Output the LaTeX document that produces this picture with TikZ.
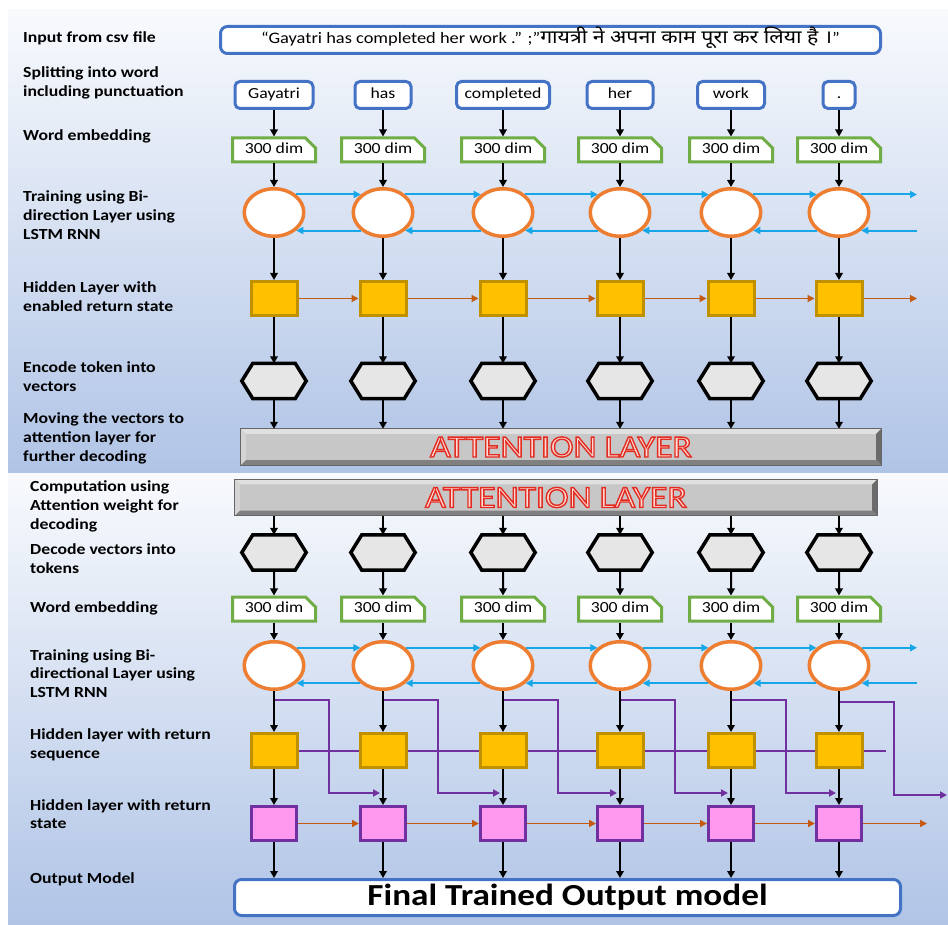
\documentclass[tikz,border=0pt]{standalone}
\usepackage{fontspec}
\setmainfont{Carlito}[FakeStretch=1.15]
\newfontfamily\devafont{Noto Sans}[Script=Devanagari,FakeStretch=1.15]
\newfontfamily\attfont{Carlito}[FakeStretch=1.15,FakeBold=4.5]
\usetikzlibrary{arrows.meta,shapes.geometric,shapes.misc,calc}

\definecolor{boxblue}{HTML}{4472C4}
\definecolor{embgreen}{HTML}{70AD47}
\definecolor{cellorange}{HTML}{ED7D31}
\definecolor{flowblue}{HTML}{17A6E8}
\definecolor{goldfill}{HTML}{FFC000}
\definecolor{golddark}{HTML}{BF9000}
\definecolor{stateorange}{HTML}{C55A11}
\definecolor{hexgray}{HTML}{E7E6E6}
\definecolor{pinkcell}{HTML}{FF99F0}
\definecolor{violetline}{HTML}{7030A0}
\definecolor{panelhi}{HTML}{F8FAFD}
\definecolor{panelmid}{HTML}{CCD9EF}
\definecolor{panello}{HTML}{B0C4E6}
\definecolor{attpink}{HTML}{FBDAD4}

% red stroke for the outlined caption letters (fill stays pink)
\newcommand\redstroke{\special{pdf:literal direct 0.89 0.17 0.13 RG}}

\tikzset{
  lbl/.style={anchor=west, align=left, inner sep=0pt,
    font=\fontsize{15.4}{18.7}\selectfont\bfseries},
  boxtext/.style={font=\fontsize{15.4}{18}\selectfont, text height=10.5pt, text depth=3pt},
  wordbox/.style={boxtext, draw=boxblue, line width=3pt, rounded corners=5pt,
    fill=white, minimum height=27pt, inner sep=0pt},
  embbox/.style={boxtext, chamfered rectangle, chamfered rectangle corners=north east,
    chamfered rectangle xsep=5pt, chamfered rectangle ysep=5pt,
    draw=embgreen, line width=3pt, fill=white,
    minimum width=83pt, minimum height=24pt, inner sep=0pt},
  cell/.style={ellipse, draw=cellorange, line width=3.5pt, fill=white,
    minimum width=59.5pt, minimum height=47.5pt, inner sep=0pt},
  ysq/.style={draw=golddark, fill=goldfill, line width=3pt,
    minimum width=46pt, minimum height=34pt, inner sep=0pt},
  psq/.style={draw=violetline, fill=pinkcell, line width=3pt,
    minimum width=45pt, minimum height=34pt, inner sep=0pt},
  hexnode/.style={minimum width=64pt, minimum height=35pt, inner sep=0pt},
  hexline/.style={draw=black, fill=hexgray, line width=3.5pt, line join=miter},
  attbar/.style={fill=black!22, minimum width=640pt, minimum height=36pt, inner sep=0pt},
  bevtop/.style={fill=black!12},
  bevleft/.style={fill=black!17},
  bevright/.style={fill=black!58},
  bevbot/.style={fill=black!50},
  bevedge/.style={draw=black!60, line width=1pt},
  atttxt/.style={font=\fontsize{31}{32}\attfont, text=attpink, inner sep=0pt},
  blk/.style={draw=black, line width=2pt, -{Triangle[length=7pt,width=7.5pt]}},
  bluearr/.style={draw=flowblue, line width=2pt, -{Triangle[length=7pt,width=7pt]}},
  statearr/.style={draw=stateorange, line width=1.8pt, -{Triangle[length=7pt,width=7pt]}},
  violetarr/.style={draw=violetline, line width=2pt, -{Triangle[length=7pt,width=7pt]}},
  violetln/.style={draw=violetline, line width=2pt},
  bigbox/.style={draw=boxblue, line width=3pt, rounded corners=7pt, fill=white, inner sep=0pt}
}

% hexagon with pointed left and right ends
\newcommand\hexcell[3]{%
  \node[hexnode] (#1) at (#2,#3) {};
  \draw[hexline] (#1.west) -- ($(#1.north west)+(11,0)$) -- ($(#1.north east)+(-11,0)$)
    -- (#1.east) -- ($(#1.south east)+(-11,0)$) -- ($(#1.south west)+(11,0)$) -- cycle;
}

% bevelled grey bar with outlined red caption
\newcommand\bevelbar[4]{%
  \node[attbar, minimum width=#4] (#1) at (#2,#3) {};
  \fill[bevtop] (#1.north west) -- (#1.north east) -- ($(#1.north east)+(-5,5)$) -- ($(#1.north west)+(5,5)$) -- cycle;
  \fill[bevleft] (#1.north west) -- ($(#1.north west)+(5,5)$) -- ($(#1.south west)+(5,-5)$) -- (#1.south west) -- cycle;
  \fill[bevright] (#1.north east) -- ($(#1.north east)+(-5,5)$) -- ($(#1.south east)+(-5,-5)$) -- (#1.south east) -- cycle;
  \fill[bevbot] (#1.south west) -- ($(#1.south west)+(5,-5)$) -- ($(#1.south east)+(-5,-5)$) -- (#1.south east) -- cycle;
  \draw[bevedge] (#1.north west) rectangle (#1.south east);
  \node[atttxt] (#1t) at (#1.center) {\redstroke ATTENTION LAYER};
}

\begin{document}
\begin{tikzpicture}[x=1pt, y=-1pt]
\useasboundingbox (0,0) rectangle (948,925);
\fill[white] (0,0) rectangle (948,925);

% two shaded panels
\shade[top color=panelhi, middle color=panelmid, bottom color=panello] (8,10) rectangle (948,472);
\shade[top color=panelhi, middle color=panelmid, bottom color=panello] (8,473) rectangle (948,925);

% ---------------- encoder ----------------
\node[lbl] (l1) at (23,38) {Input from csv file};
\node[lbl] (l2) at (23,83) {Splitting into word\\including punctuation};
\node[lbl] (l3) at (23,136) {Word embedding};
\node[lbl] (l4) at (23,215) {Training using Bi-\\direction Layer using\\LSTM RNN};
\node[lbl] (l5) at (23,296.5) {Hidden Layer with\\enabled return state};
\node[lbl] (l6) at (23,376.5) {Encode token into\\vectors};
\node[lbl] (l7) at (23,438.5) {Moving the vectors to\\attention layer for\\further decoding};

\node[bigbox, boxtext, font=\fontsize{16}{18}\selectfont, minimum width=660pt, minimum height=27pt] (inp) at (550.5,40)
  {“Gayatri has completed her work .” ;”{\devafont\fontsize{18.5}{20}\selectfont गायत्री ने अपना काम पूरा कर लिया है ।}”};

\bevelbar{att1}{561}{447}{640pt}

\foreach \i/\x/\w/\t in {1/274/78/Gayatri,2/383/56/has,3/503/93/completed,4/620/66/her,5/731/67/work,6/839/32/.}{
  \node[wordbox, minimum width=\w pt] (w\i) at (\x,95) {\t};
  \node[embbox] (e\i) at (\x,150) {300 dim};
  \node[cell] (c\i) at (\x,212.5) {};
  \node[ysq] (s\i) at (\x,298.5) {};
  \hexcell{h\i}{\x}{381}
  \draw[blk] (w\i) -- (e\i);
  \draw[blk] (e\i) -- (c\i);
  \draw[blk] (c\i) -- (s\i);
  \draw[blk] (s\i) -- (h\i);
  \draw[blk] (h\i) -- (h\i |- att1.north);
}

\coordinate (topend) at (917,0);
\foreach \i [evaluate=\i as \j using {int(\i+1)}] in {1,...,5}{
  \draw[bluearr] (c\i.39) -- (c\j.141);
  \draw[bluearr] (c\j.-141) -- (c\i.-39);
  \draw[statearr] (s\i) -- (s\j);
}
\draw[bluearr] (c6.39) -- (c6.39 -| topend);
\draw[bluearr] (c6.-39 -| topend) -- (c6.-39);
\draw[statearr] (s6) -- (s6 -| topend);

% ---------------- decoder ----------------
\node[lbl] (l8) at (30,506.5) {Computation using\\Attention weight for\\decoding};
\node[lbl] (l9) at (30,559) {Decode vectors into\\tokens};
\node[lbl] (l10) at (30,608) {Word embedding};
\node[lbl] (l11) at (30,673.5) {Training using Bi-\\directional Layer using\\LSTM RNN};
\node[lbl] (l12) at (30,745) {Hidden layer with return\\sequence};
\node[lbl] (l13) at (30,814) {Hidden layer with return\\state};
\node[lbl] (l14) at (30,879) {Output Model};

\bevelbar{att2}{556}{497.5}{642pt}

\node[bigbox, minimum width=666pt, minimum height=36pt,
  font=\fontsize{30.6}{32}\selectfont\bfseries] (out) at (567.5,897.5) {Final Trained Output model};

\foreach \i/\x in {1/274,2/383,3/503,4/620,5/731,6/839}{
  \hexcell{g\i}{\x}{552.5}
  \node[embbox] (f\i) at (\x,609) {300 dim};
  \node[cell] (d\i) at (\x,665.5) {};
  \node[ysq] (q\i) at (\x,750.5) {};
  \node[psq] (k\i) at (\x,823.5) {};
  \coordinate (pj\i) at (\x,700);
  \coordinate (pd\i) at ($(\x,793)+(-3,0)$);
}
\coordinate (pd7) at (947,795);
\coordinate (pj6) at (839,702);

% return-sequence feeds into the next time step
\foreach \i [evaluate=\i as \j using {int(\i+1)}] in {1,...,6}{
  \draw[violetarr] (pj\i) -- ++(55,0) |- (pd\j);
}

\foreach \i in {1,...,6}{
  \draw[blk] (g\i |- att2.south) -- (g\i);
  \draw[blk] (g\i) -- (f\i);
  \draw[blk] (f\i) -- (d\i);
  \draw[blk] (d\i) -- (q\i);
  \draw[blk] (q\i) -- (k\i);
  \draw[blk] (k\i) -- (k\i |- out.north);
}

\coordinate (seqend) at (886,0);
\coordinate (botend) at (927,0);
\foreach \i [evaluate=\i as \j using {int(\i+1)}] in {1,...,5}{
  \draw[bluearr] (d\i.38) -- (d\j.142);
  \draw[bluearr] (d\j.-142) -- (d\i.-38);
  \draw[violetln] (q\i) -- (q\j);
  \draw[statearr] (k\i) -- (k\j);
}
\draw[bluearr] (d6.38) -- (d6.38 -| topend);
\draw[bluearr] (d6.-38 -| topend) -- (d6.-38);
\draw[violetln] (q6) -- (q6 -| seqend);
\draw[statearr] (k6) -- (k6 -| botend);
\end{tikzpicture}
\end{document}
